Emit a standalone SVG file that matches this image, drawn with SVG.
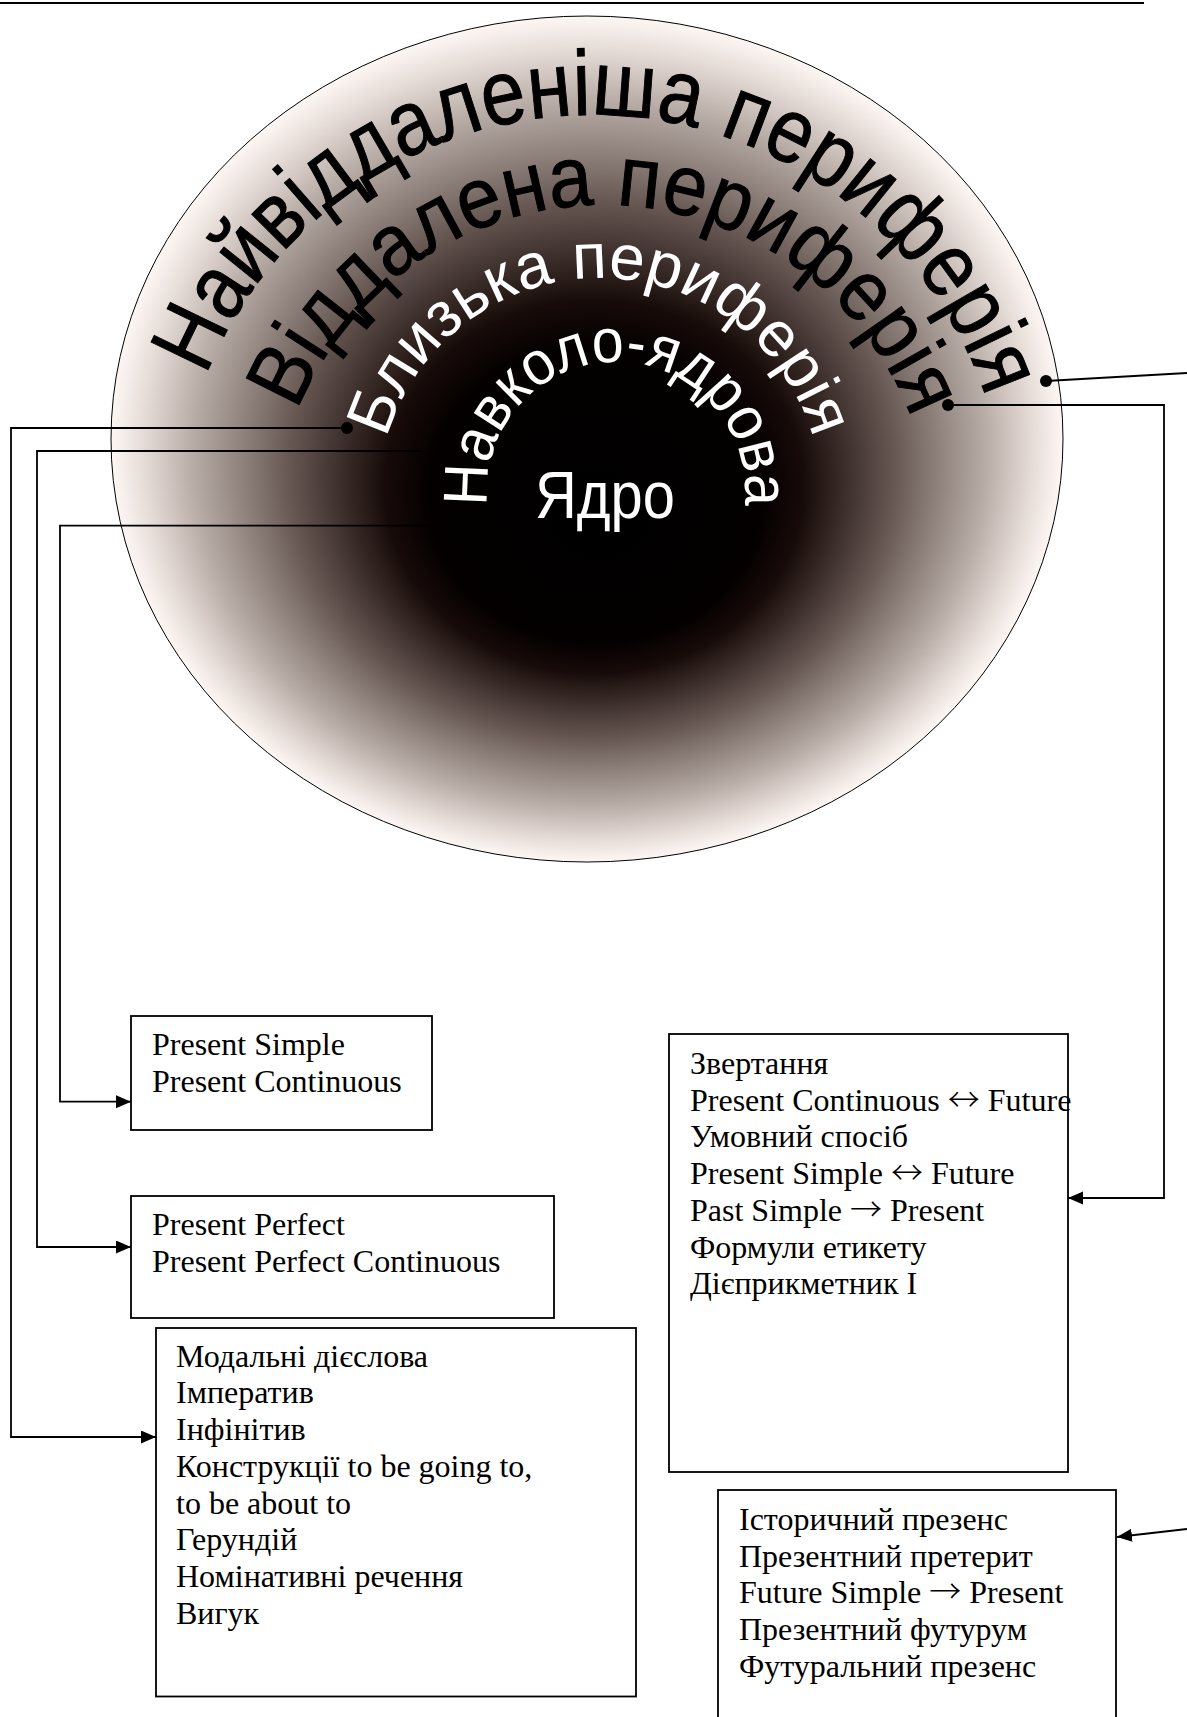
<svg xmlns="http://www.w3.org/2000/svg" width="1187" height="1717" viewBox="0 0 1187 1717">
<style>
.box{fill:#fff;stroke:#000;stroke-width:1.8}
.bt{font-family:"Liberation Serif","Times New Roman",serif;font-size:32px;fill:#000}
.ar{font-family:"Noto Sans CJK SC","Liberation Serif",sans-serif;font-size:32px;font-weight:300}
.arc{font-family:"Liberation Sans",Arial,sans-serif}
.con{fill:none;stroke:#000;stroke-width:1.8}
</style>
<defs>
<radialGradient id="g" gradientUnits="userSpaceOnUse" cx="587" cy="439" r="476" fx="600" fy="535" gradientTransform="matrix(1 0 0 0.8887 0 48.86)">
<stop offset="0" stop-color="#000"/>
<stop offset="0.35" stop-color="#040000"/>
<stop offset="0.44" stop-color="#170b09"/>
<stop offset="0.54" stop-color="#40322e"/>
<stop offset="0.64" stop-color="#685955"/>
<stop offset="0.74" stop-color="#92857f"/>
<stop offset="0.84" stop-color="#bbafa9"/>
<stop offset="0.93" stop-color="#e4dad5"/>
<stop offset="1" stop-color="#fdf7f4"/>
</radialGradient>
<marker id="ah" markerUnits="userSpaceOnUse" markerWidth="16" markerHeight="14" refX="15" refY="6.5" orient="auto"><path d="M0,0 L15,6.5 L0,13 z" fill="#000"/></marker>
<path id="p1" d="M176,531 A416,416 0 0 1 1008,531"/>
<path id="p2" d="M273,535 A330,330 0 0 1 933,535"/>
<path id="p3" d="M378,500 A222,222 0 0 1 822,500"/>
<path id="p4" d="M494.8,535.1 A129,129 0 1 1 737.2,535.1"/>
</defs>
<line x1="0" y1="3" x2="1144" y2="3" stroke="#000" stroke-width="2"/>
<g id="zones">
<ellipse cx="587" cy="439" rx="476" ry="423" fill="url(#g)" stroke="#000" stroke-width="1"/>
<text class="arc" font-size="92" fill="#000" stroke="#000" stroke-width="1"><textPath href="#p1" startOffset="50.9%" text-anchor="middle" textLength="1012" lengthAdjust="spacingAndGlyphs">Найвіддаленіша периферія</textPath></text>
<text class="arc" font-size="86" fill="#000" stroke="#000" stroke-width="1"><textPath href="#p2" startOffset="50.4%" text-anchor="middle" textLength="790" lengthAdjust="spacingAndGlyphs">Віддалена периферія</textPath></text>
<text class="arc" font-size="64" fill="#fff"><textPath href="#p3" startOffset="50%" text-anchor="middle" textLength="572" lengthAdjust="spacingAndGlyphs">Близька периферія</textPath></text>
<text class="arc" font-size="62" fill="#fff"><textPath href="#p4" startOffset="50%" text-anchor="middle" textLength="435" lengthAdjust="spacingAndGlyphs">Навколо-ядрова</textPath></text>
<text class="arc" x="535" y="518" font-size="66" fill="#fff" textLength="140" lengthAdjust="spacingAndGlyphs">Ядро</text>
</g>
<g id="connectors">
<polyline class="con" points="347,428 11,428 11,1437 156,1437" marker-end="url(#ah)"/>
<polyline class="con" points="421,451 37,451 37,1247 131,1247" marker-end="url(#ah)"/>
<polyline class="con" points="446,525.6 60,525.6 60,1101.7 131,1101.7" marker-end="url(#ah)"/>
<polyline class="con" points="948,405 1164,405 1164,1198 1068,1198" marker-end="url(#ah)"/>
<line class="con" x1="1046" y1="381" x2="1187" y2="373"/>
<line class="con" x1="1187" y1="1529" x2="1117" y2="1537" marker-end="url(#ah)"/>
<circle cx="347" cy="428" r="6" fill="#000"/>
<circle cx="948" cy="405" r="6" fill="#000"/>
<circle cx="1046" cy="381" r="6" fill="#000"/>
</g>
<g id="box1">
<rect class="box" x="131" y="1016" width="301" height="114"/>
<text class="bt" x="152" y="1055">Present Simple</text>
<text class="bt" x="152" y="1091.7">Present Continuous</text>
</g>
<g id="box2">
<rect class="box" x="131" y="1196" width="423" height="122"/>
<text class="bt" x="152" y="1235">Present Perfect</text>
<text class="bt" x="152" y="1271.7">Present Perfect Continuous</text>
</g>
<g id="box3">
<rect class="box" x="156" y="1328" width="480" height="368.5"/>
<text class="bt" x="176" y="1366.7">Модальні дієслова</text>
<text class="bt" x="176" y="1403.4">Імператив</text>
<text class="bt" x="176" y="1440.1">Інфінітив</text>
<text class="bt" x="176" y="1476.8">Конструкції to be going to,</text>
<text class="bt" x="176" y="1513.5">to be about to</text>
<text class="bt" x="176" y="1550.2">Герундій</text>
<text class="bt" x="176" y="1586.9">Номінативні речення</text>
<text class="bt" x="176" y="1623.6">Вигук</text>
</g>
<g id="box4">
<rect class="box" x="669" y="1034" width="399" height="438"/>
<text class="bt" x="690" y="1074">Звертання</text>
<text class="bt" x="690" y="1110.7">Present Continuous <tspan class="ar">↔</tspan> Future</text>
<text class="bt" x="690" y="1147.4">Умовний спосіб</text>
<text class="bt" x="690" y="1184.1">Present Simple <tspan class="ar">↔</tspan> Future</text>
<text class="bt" x="690" y="1220.8">Past Simple <tspan class="ar">→</tspan> Present</text>
<text class="bt" x="690" y="1257.5">Формули етикету</text>
<text class="bt" x="690" y="1294.2">Дієприкметник I</text>
</g>
<g id="box5">
<rect class="box" x="718" y="1490" width="398" height="260"/>
<text class="bt" x="739" y="1530">Історичний презенс</text>
<text class="bt" x="739" y="1566.7">Презентний претерит</text>
<text class="bt" x="739" y="1603.4">Future Simple <tspan class="ar">→</tspan> Present</text>
<text class="bt" x="739" y="1640.1">Презентний футурум</text>
<text class="bt" x="739" y="1676.8">Футуральний презенс</text>
</g>
</svg>
